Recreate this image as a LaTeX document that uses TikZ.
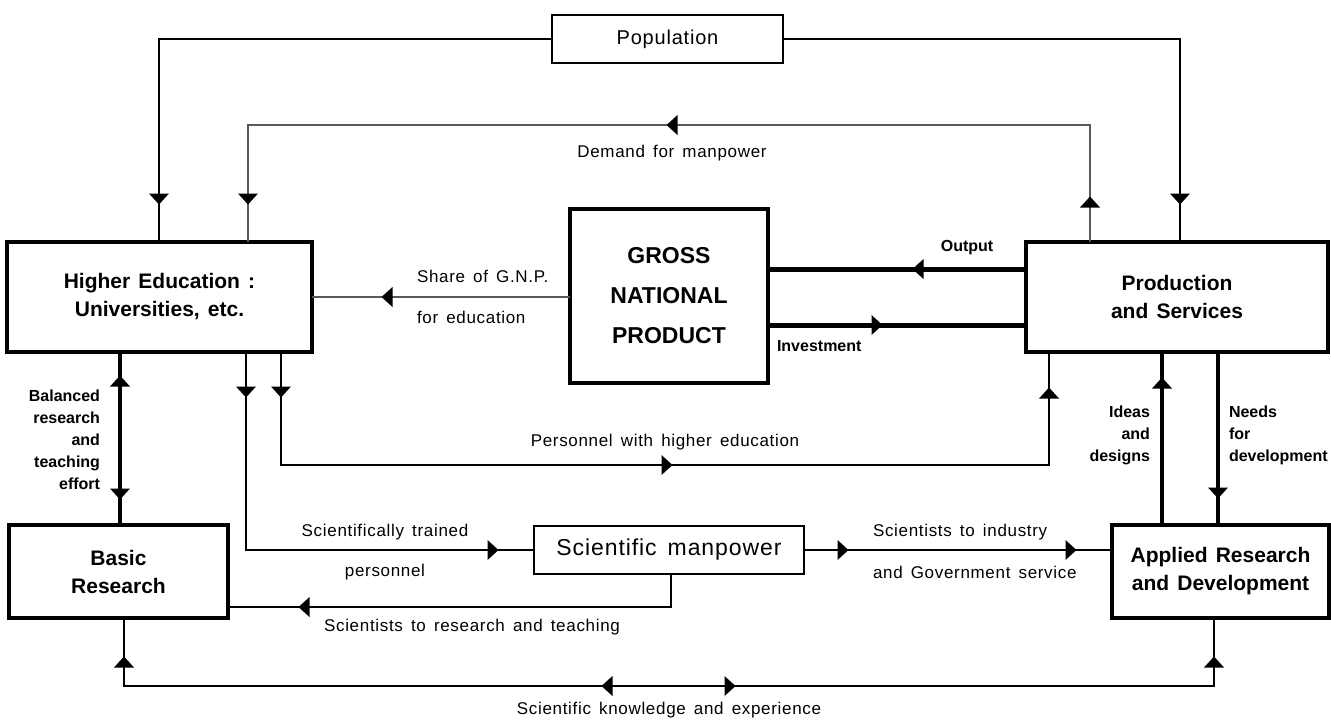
\documentclass[tikz,border=0pt]{standalone}
\usepackage{fontspec}
\setmainfont{Liberation Sans}
\newfontfamily\labfont[LetterSpace=4,WordSpace=1.5]{Liberation Sans}
\newfontfamily\boldfont[WordSpace=1.4]{Liberation Sans}
\begin{document}
\begin{tikzpicture}[x=0.5pt,y=-0.5pt,
  every node/.style={inner sep=0pt, outer sep=0pt},
  box/.style={draw, line width=2pt, align=center, font=\boldfont\bfseries\fontsize{10.5}{14}\selectfont},
  lbox/.style={draw, line width=1pt, font=\labfont\fontsize{10}{12}\selectfont},
  lab/.style={font=\labfont\fontsize{8.5}{10}\selectfont},
  blab/.style={font=\bfseries\fontsize{8}{11}\selectfont},
  wthin/.style={line width=0.6pt, draw=black!65},
  wmed/.style={line width=1.1pt},
  wbold/.style={line width=2pt},
  wheavy/.style={line width=2.5pt},
  triD/.pic={\fill (-10,-5.5) -- (10,-5.5) -- (0,5.5) -- cycle;},
  triU/.pic={\fill (-10,5.5) -- (10,5.5) -- (0,-5.5) -- cycle;},
  triR/.pic={\fill (-5.5,-10) -- (-5.5,10) -- (5.5,0) -- cycle;},
  triL/.pic={\fill (5.5,-10) -- (5.5,10) -- (-5.5,0) -- cycle;}
]
\useasboundingbox (0,0) rectangle (1331,720);

% boxes
\node[lbox, minimum width=115.5pt, minimum height=24pt] (pop) at (667.5,39) {Population};
\node[box, minimum width=152.5pt, minimum height=55pt] (he) at (159.5,297) {Higher Education :\\Universities, etc.};
\node[box, minimum width=99pt, minimum height=87pt, font=\bfseries\fontsize{11.5}{20}\selectfont] (gnp) at (669,296) {GROSS\\NATIONAL\\PRODUCT};
\node[box, minimum width=151pt, minimum height=55pt] (prod) at (1177,297) {Production\\and Services};
\node[box, minimum width=109.5pt, minimum height=46.5pt] (basic) at (118.5,571.5) {Basic\\Research};
\node[lbox, minimum width=135pt, minimum height=24pt, font=\labfont\fontsize{11.5}{13}\selectfont] (sci) at (669,550) {Scientific manpower};
\node[box, minimum width=108.5pt, minimum height=46.5pt] (app) at (1220.5,571.5) {Applied Research\\and Development};

% arrowhead positions
\coordinate (tpl) at (159,199);
\coordinate (tpr) at (1180,199);
\coordinate (tdu) at (1090,202);
\coordinate (tdm) at (672,125);
\coordinate (tdl) at (248,199);
\coordinate (tsh) at (387,297);
\coordinate (tout) at (918,269);
\coordinate (tinv) at (877,325);
\coordinate (tpd) at (281,392);
\coordinate (tpm) at (667,465);
\coordinate (tpu) at (1049,393);
\coordinate (tsd) at (246,392);
\coordinate (tsr) at (493,550);
\coordinate (ti1) at (843,550);
\coordinate (ti2) at (1071,550);
\coordinate (trc) at (671,607);
\coordinate (trl) at (304,607);
\coordinate (tbu) at (120,381);
\coordinate (tbd) at (120,494);
\coordinate (tid) at (1162,383);
\coordinate (tnd) at (1218,493);
\coordinate (tkl) at (124,662);
\coordinate (tkm1) at (607,686);
\coordinate (tkm2) at (730,686);
\coordinate (tkr) at (1214,662);

% connectors
\draw[wmed] (pop.west) -| (he.north -| tpl);
\draw[wmed] (pop.east) -| (prod.north -| tpr);
\draw[wthin] (prod.north -| tdu) |- (tdm) -| (he.north -| tdl);
\draw[wthin] (gnp.west |- tsh) -- (he.east |- tsh);
\draw[wheavy] (prod.west |- tout) -- (gnp.east |- tout);
\draw[wheavy] (gnp.east |- tinv) -- (prod.west |- tinv);
\draw[wmed] (he.south -| tpd) |- (tpm) -| (prod.south -| tpu);
\draw[wmed] (he.south -| tsd) |- (sci.west);
\draw[wmed] (sci.east) -- (app.west |- sci.east);
\draw[wmed] (sci.south -| trc) |- (basic.east |- trl);
\draw[wbold] (he.south -| tbu) -- (basic.north -| tbu);
\draw[wbold] (app.north -| tid) -- (prod.south -| tid);
\draw[wbold] (prod.south -| tnd) -- (app.north -| tnd);
\draw[wmed] (basic.south -| tkl) |- (tkm1) -| (app.south -| tkr);

% arrowheads
\pic at (tpl) {triD};
\pic at (tpr) {triD};
\pic at (tdu) {triU};
\pic at (tdm) {triL};
\pic at (tdl) {triD};
\pic at (tsh) {triL};
\pic at (tout) {triL};
\pic at (tinv) {triR};
\pic at (tpd) {triD};
\pic at (tpm) {triR};
\pic at (tpu) {triU};
\pic at (tsd) {triD};
\pic at (tsr) {triR};
\pic at (ti1) {triR};
\pic at (ti2) {triR};
\pic at (trl) {triL};
\pic at (tbu) {triU};
\pic at (tbd) {triD};
\pic at (tid) {triU};
\pic at (tnd) {triD};
\pic at (tkl) {triU};
\pic at (tkm1) {triL};
\pic at (tkm2) {triR};
\pic at (tkr) {triU};

% labels
\node[lab, anchor=west] (lshare1) at (417,276) {Share of G.N.P.};
\node[lab, anchor=west] (lshare2) at (417,317) {for education};
\node[lab] (ldem) at (672,153) {Demand for manpower};
\node[blab] (lout) at (967,248) {Output};
\node[blab, anchor=west] (linv) at (777,346) {Investment};
\node[lab] (lpers) at (665,442) {Personnel with higher education};
\node[lab] (lst1) at (385,532) {Scientifically trained};
\node[lab] (lst2) at (385,572) {personnel};
\node[lab, anchor=west] (lind1) at (873,532) {Scientists to industry};
\node[lab, anchor=west] (lind2) at (873,572) {and Government service};
\node[lab] (lres) at (472,627) {Scientists to research and teaching};
\node[lab] (lknow) at (669,710) {Scientific knowledge and experience};
\node[blab, anchor=east, align=right] (lbal) at (100,440) {Balanced\\research\\and\\teaching\\effort};
\node[blab, anchor=east, align=right] (lidea) at (1150,435) {Ideas\\and\\designs};
\node[blab, anchor=west, align=left] (lneed) at (1229,435) {Needs\\for\\development};
\end{tikzpicture}
\end{document}
